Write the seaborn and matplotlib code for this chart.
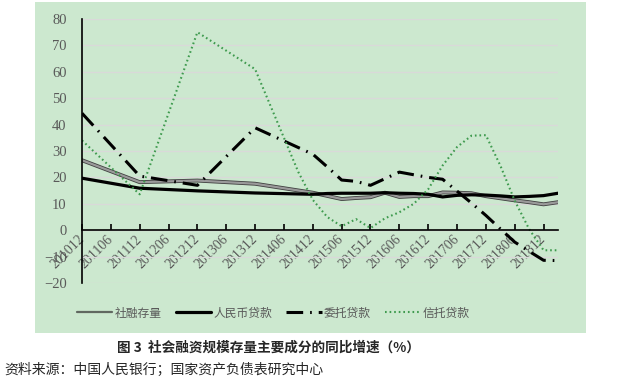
import pandas as pd
import seaborn as sns
import matplotlib.pyplot as plt
import matplotlib.patheffects as pe
from matplotlib.patches import Rectangle

sns.set_style("ticks")
plt.rcParams['font.family'] = ['Liberation Serif', 'Noto Sans CJK SC', 'DejaVu Sans']
plt.rcParams['lines.scale_dashes'] = False

# x axis: half-year tick labels, axis runs to 201903
tick_labels = ['201012', '201106', '201112', '201206', '201212', '201306',
               '201312', '201406', '201412', '201506', '201512', '201606',
               '201612', '201706', '201712', '201806', '201812']
axis_end = '201903'

# 社融存量
tsf_periods = ['201012', '201112', '201212', '201312', '201412', '201503',
               '201506', '201509', '201512', '201603', '201606', '201609',
               '201612', '201703', '201706', '201709', '201712', '201803',
               '201806', '201809', '201812', '201903']
tsf_values = [26.5, 18.2, 18.8, 17.6, 14.2, 13.0, 11.8, 12.2, 12.5, 14.2, 12.6,
              12.9, 12.9, 14.3, 14.2, 14.0, 12.9, 12.1, 11.3, 10.6, 9.8, 10.6]

# 人民币贷款
rmb_periods = tsf_periods
rmb_values = [19.7, 15.9, 14.9, 14.1, 13.6, 13.9, 14.0, 14.0, 14.0, 14.2, 14.0,
              13.9, 13.6, 12.6, 13.2, 13.4, 13.3, 13.0, 12.6, 12.8, 13.1, 14.0]

# 委托贷款
ent_periods = tsf_periods
ent_values = [44.3, 20.5, 17.0, 38.8, 28.8, 24.0, 19.0, 18.5, 17.0, 19.5, 22.0,
              21.0, 20.0, 19.3, 14.8, 10.3, 5.6, 0.5, -4.5, -8.0, -11.4, -11.5]

# 信托贷款
trust_periods = ['201012', '201112', '201212', '201312', '201403', '201406',
                 '201409', '201412', '201503', '201506', '201509', '201512',
                 '201603', '201606', '201609', '201612', '201703', '201706',
                 '201709', '201712', '201803', '201806', '201809', '201812',
                 '201903']
trust_values = [34.0, 13.6, 75.0, 61.0, 48.0, 35.0, 22.0, 11.5, 5.0, 1.5, 4.2,
                0.8, 4.5, 6.8, 10.0, 15.5, 24.5, 31.5, 35.8, 36.0, 24.5, 11.2,
                0.4, -7.6, -7.6]


def qidx(p):
    # quarter number counted from 201012
    return (int(p[:4]) - 2010) * 4 + (int(p[4:]) - 12) // 3


rows = []
for name, per, val in [('社融存量', tsf_periods, tsf_values),
                       ('人民币贷款', rmb_periods, rmb_values),
                       ('委托贷款', ent_periods, ent_values),
                       ('信托贷款', trust_periods, trust_values)]:
    for p, v in zip(per, val):
        rows.append({'series': name, 'period': p, 'q': qidx(p), 'value': v})
df = pd.DataFrame(rows)

styles = {
    '社融存量': dict(color='#9a9a9a', lw=1.6,
                 path_effects=[pe.Stroke(linewidth=2.8, foreground='#404040'), pe.Normal()]),
    '人民币贷款': dict(color='black', lw=2.3),
    '委托贷款': dict(color='black', lw=2.2, dashes=(12, 5, 1.2, 5)),
    '信托贷款': dict(color='#3e9a4e', lw=1.5, dashes=(1.2, 2.1)),
}

green = '#cce8cf'
fig = plt.figure(figsize=(6.22, 3.84), dpi=100)
fig.patches.append(Rectangle((35 / 622, 51 / 384), 551 / 622, 331 / 384,
                             transform=fig.transFigure, facecolor=green,
                             edgecolor='none', zorder=-5))
ax = fig.add_axes([82 / 622, 101 / 384, 476 / 622, 264 / 384])
ax.set_facecolor('none')

for name in styles:
    sub = df[df['series'] == name]
    st = dict(styles[name])
    dashes = st.pop('dashes', None)
    sns.lineplot(data=sub, x='q', y='value', ax=ax, label=name, **st)
    if dashes is not None:
        ax.lines[-1].set_dashes(dashes)

ax.set_xlim(0, qidx(axis_end))
ax.set_ylim(-20, 80)
ax.set_yticks(range(-20, 81, 10))
ax.set_xticks([qidx(t) for t in tick_labels])
ax.set_xticklabels(tick_labels)
ax.set_xlabel('')
ax.set_ylabel('')
ax.yaxis.grid(True, color='#d9d9d9', lw=1.0)
ax.set_axisbelow(True)

for s in ['top', 'right']:
    ax.spines[s].set_visible(False)
ax.spines['bottom'].set_position(('data', 0))
ax.spines['bottom'].set_color('black')
ax.spines['left'].set_color('black')
ax.spines['bottom'].set_linewidth(1.2)
ax.spines['left'].set_linewidth(1.2)

ax.tick_params(axis='y', length=0, pad=11, labelsize=10.5, labelcolor='#595959')
ax.tick_params(axis='x', direction='in', length=4, width=1.2, color='black',
               pad=5, labelsize=10, labelcolor='#595959')
for t in ax.get_xticklabels():
    t.set_rotation(45)
    t.set_ha('right')
    t.set_va('center')
    t.set_rotation_mode('anchor')

ax.get_legend().remove()
h, l = ax.get_legend_handles_labels()
leg = fig.legend(h, l, loc='center left', bbox_to_anchor=(66 / 622, 71 / 384),
                 ncol=4, frameon=False, handlelength=3.0, handletextpad=0.2,
                 columnspacing=1.2,
                 prop={'family': ['Noto Sans CJK SC', 'DejaVu Sans'], 'size': 8.5})
for t in leg.get_texts():
    t.set_color('#595959')
leg.get_lines()[0].set_path_effects([])
leg.get_lines()[0].set_color('#606860')
leg.get_lines()[0].set_linewidth(1.6)

fig.text(268 / 622, 1 - 348 / 384, '图 3  社会融资规模存量主要成分的同比增速（%）',
         ha='center', va='center', fontsize=9.8, fontweight='bold',
         family=['Noto Sans CJK SC', 'DejaVu Sans'])
fig.text(4 / 622, 1 - 370 / 384, '资料来源：中国人民银行；国家资产负债表研究中心',
         ha='left', va='center', fontsize=10,
         family=['Noto Sans CJK SC', 'DejaVu Sans'])

fig.savefig('out.png', dpi=100)
